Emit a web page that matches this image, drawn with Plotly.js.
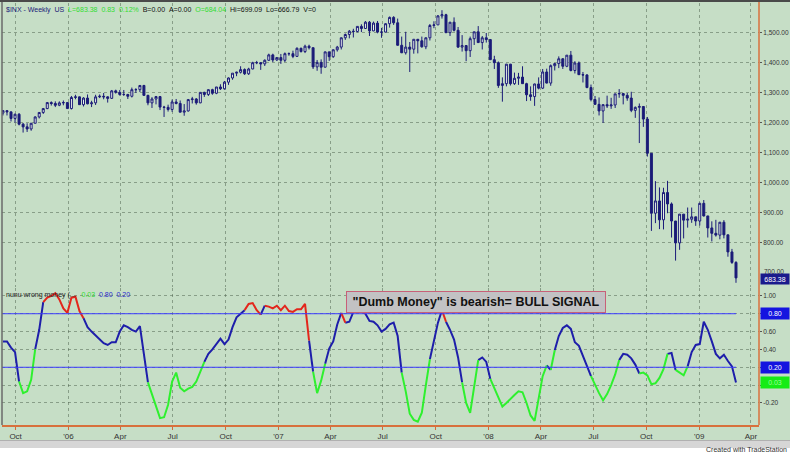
<!DOCTYPE html>
<html><head><meta charset="utf-8">
<script src="https://cdn.plot.ly/plotly-3.0.1.min.js"></script>
<style>
html,body{margin:0;padding:0;background:#fff;}
#wrap{position:relative;width:790px;height:454px;overflow:hidden;background:#fff;}
#chart{position:absolute;left:0;top:0;width:790px;height:440px;}
#topbar{position:absolute;left:0;top:0;width:790px;height:2px;background:#4a4a4a;}
#scroll{position:absolute;left:0;top:440px;width:790px;height:7px;background:#d6d6d6;border-top:1px solid #b0b0b0;}
#credit{position:absolute;right:3px;top:446px;font:7px "Liberation Sans Narrow","Liberation Sans",Arial,sans-serif;color:#333;}
</style></head>
<body><div id="wrap"><div id="chart"></div><div id="topbar"></div><div id="scroll"></div><div id="credit">Created with TradeStation</div></div>
<script>
// ---- data (weekly bars, S&P 500) ----
const startDate = '2005-09-09';
const open = [1233,1241,1237,1215,1229,1196,1187,1180,1199,1220,
1235,1248,1268,1265,1259,1267,1268,1248,1285,1287,
1261,1283,1264,1267,1287,1289,1287,1282,1307,1302,
1295,1295,1289,1311,1311,1325,1292,1267,1280,1288,
1253,1252,1245,1270,1265,1236,1240,1278,1280,1267,
1302,1295,1311,1299,1320,1314,1336,1350,1366,1369,
1378,1364,1380,1401,1401,1397,1409,1427,1410,1418,
1409,1431,1431,1422,1449,1438,1456,1451,1387,1402,
1386,1437,1421,1444,1453,1484,1495,1506,1505,1522,
1515,1536,1507,1533,1503,1503,1531,1552,1534,1459,
1434,1453,1446,1479,1474,1454,1484,1525,1527,1557,
1561,1501,1536,1509,1453,1458,1441,1481,1504,1468,
1484,1478,1411,1401,1325,1331,1396,1331,1349,1353,
1331,1294,1288,1330,1316,1370,1333,1391,1398,1414,
1389,1426,1375,1400,1361,1360,1318,1278,1262,1240,
1261,1257,1260,1297,1298,1292,1283,1242,1252,1255,
1213,1099,899,940,877,968,930,873,800,896,
876,879,887,873,932,890,850,832,826,869,
827,770,735];
const high = [1243,1243,1237,1231,1233,1200,1199,1200,1222,1235,
1250,1270,1272,1272,1272,1275,1270,1290,1294,1288,
1286,1295,1274,1294,1295,1300,1289,1310,1311,1310,
1310,1297,1318,1316,1326,1327,1294,1286,1290,1290,
1257,1261,1278,1280,1275,1263,1280,1287,1283,1302,
1304,1312,1314,1320,1329,1340,1352,1366,1371,1389,
1382,1384,1404,1407,1403,1412,1431,1431,1420,1430,
1435,1435,1441,1452,1451,1461,1461,1451,1410,1412,
1438,1438,1445,1457,1485,1498,1510,1514,1522,1529,
1540,1540,1538,1540,1517,1532,1555,1556,1548,1488,
1504,1470,1479,1480,1488,1485,1530,1539,1560,1576,
1564,1536,1552,1520,1493,1460,1488,1504,1523,1490,
1500,1480,1424,1405,1352,1397,1397,1368,1367,1389,
1334,1322,1331,1352,1380,1381,1395,1400,1422,1416,
1426,1440,1406,1405,1370,1363,1328,1290,1285,1262,
1291,1284,1297,1313,1300,1300,1304,1255,1265,1255,
1220,1099,1006,985,984,1007,935,873,896,896,
918,918,887,934,943,890,872,877,870,876,
827,780,739];
const low = [1225,1225,1205,1201,1192,1168,1170,1174,1199,1215,
1230,1246,1258,1253,1256,1259,1248,1245,1279,1260,
1255,1262,1253,1260,1283,1279,1268,1280,1298,1291,
1290,1280,1285,1300,1303,1290,1259,1250,1262,1243,
1220,1238,1237,1262,1236,1224,1238,1265,1261,1266,
1287,1290,1294,1296,1310,1311,1327,1344,1356,1365,
1360,1360,1379,1396,1377,1390,1407,1403,1407,1397,
1403,1424,1416,1420,1435,1433,1445,1380,1374,1364,
1385,1407,1417,1438,1445,1477,1482,1485,1502,1503,
1514,1490,1506,1499,1484,1502,1518,1527,1458,1433,
1428,1370,1431,1432,1451,1446,1475,1516,1527,1548,
1500,1490,1505,1450,1438,1406,1420,1460,1467,1445,
1468,1411,1380,1317,1271,1322,1325,1327,1327,1331,
1273,1274,1257,1312,1313,1332,1324,1375,1383,1380,
1386,1372,1365,1360,1335,1316,1272,1262,1225,1200,
1250,1247,1250,1284,1262,1274,1236,1217,1133,1187,
1088,840,866,846,845,899,818,741,777,815,
851,867,857,858,888,818,805,821,812,815,
754,730,667];
const close = [1241,1237,1215,1229,1196,1187,1180,1199,1220,1235,
1248,1268,1265,1259,1267,1268,1248,1285,1287,1261,
1283,1264,1267,1287,1289,1287,1282,1307,1302,1295,
1295,1289,1311,1311,1325,1292,1267,1280,1288,1253,
1252,1245,1270,1265,1236,1240,1278,1280,1267,1302,
1295,1311,1299,1320,1314,1336,1350,1366,1369,1378,
1364,1380,1401,1401,1397,1409,1427,1410,1418,1409,
1431,1431,1422,1449,1438,1456,1451,1387,1402,1386,
1437,1421,1444,1453,1484,1495,1506,1505,1522,1515,
1536,1507,1533,1503,1503,1531,1552,1534,1459,1434,
1453,1446,1479,1474,1454,1484,1525,1527,1557,1561,
1501,1536,1509,1453,1458,1441,1481,1504,1468,1484,
1478,1411,1401,1325,1331,1396,1331,1349,1353,1331,
1294,1288,1330,1316,1370,1333,1391,1398,1414,1389,
1426,1375,1400,1361,1360,1318,1278,1262,1240,1261,
1257,1260,1297,1298,1292,1283,1242,1252,1255,1213,
1099,899,940,877,968,930,873,800,896,876,
879,887,873,932,890,850,832,826,869,827,
770,735,683.38];
const dumbMoney = [0.49,0.49,0.42,0.37,0.04,-0.09,-0.07,0.06,0.40,0.62,
0.93,0.98,1.00,1.03,0.96,0.86,0.81,0.98,0.99,0.83,
0.75,0.65,0.60,0.56,0.52,0.47,0.45,0.48,0.48,0.60,
0.67,0.65,0.62,0.60,0.66,0.33,0.03,-0.11,-0.24,-0.37,
-0.36,-0.22,0.04,0.14,-0.03,-0.07,-0.04,-0.02,0.04,0.14,
0.26,0.35,0.40,0.46,0.52,0.46,0.51,0.65,0.76,0.80,
0.84,0.91,0.92,0.84,0.79,0.89,0.88,0.86,0.89,0.84,
0.89,0.83,0.82,0.85,0.85,0.91,0.50,0.15,-0.09,0.05,
0.24,0.41,0.49,0.68,0.81,0.70,0.71,0.82,0.85,0.83,
0.80,0.72,0.71,0.67,0.60,0.63,0.68,0.70,0.55,0.14,
-0.07,-0.32,-0.39,-0.41,-0.31,0.00,0.29,0.48,0.70,0.84,
0.71,0.62,0.51,0.31,0.03,-0.20,-0.31,0.00,0.28,0.31,
0.26,0.07,-0.03,-0.15,-0.24,-0.20,-0.15,-0.11,-0.07,-0.08,
-0.20,-0.34,-0.40,-0.13,0.10,0.22,0.17,0.39,0.55,0.64,
0.67,0.63,0.48,0.44,0.32,0.20,0.10,0.00,-0.09,-0.17,
-0.10,0.00,0.12,0.28,0.35,0.34,0.30,0.23,0.13,0.14,
0.11,0.01,0.02,0.08,0.18,0.35,0.36,0.17,0.14,0.11,
0.21,0.37,0.45,0.46,0.71,0.62,0.49,0.35,0.30,0.34,
0.27,0.21,0.03];
const upperLevel = 0.80;
const lowerLevel = 0.20;
const tickDates = ['2005-10-01','2006-01-01','2006-04-01','2006-07-01','2006-10-01','2007-01-01','2007-04-01','2007-07-01','2007-10-01','2008-01-01','2008-04-01','2008-07-01','2008-10-01','2009-01-01','2009-04-01'];
const tickLabels = ['Oct',"'06",'Apr','Jul','Oct',"'07",'Apr','Jul','Oct',"'08",'Apr','Jul','Oct',"'09",'Apr'];
const priceTicks = [800,900,1000,1100,1200,1300,1400,1500];
const priceTickLabels = ['800.00','900.00','1,000.00','1,100.00','1,200.00','1,300.00','1,400.00','1,500.00'];
const indTicks = [-0.2,0,0.2,0.4,0.6,0.8,1.0];
const indTickLabels = ['-0.20','','','0.40','0.60','','1.00'];

// ---- build ----
const dates = [];
const t0 = Date.parse(startDate + 'T00:00:00Z');
for (let i = 0; i < close.length; i++) dates.push(new Date(t0 + i*7*86400000).toISOString().slice(0,10));
const xRange = ['2005-09-07 08:00','2009-04-15'];

const RED='#e3261c', BLUE='#1e1eaa', GREEN='#2ef02e';
function colorOf(v){ return v > upperLevel ? RED : (v < lowerLevel ? GREEN : BLUE); }
const segs = {}; segs[RED]={x:[],y:[]}; segs[BLUE]={x:[],y:[]}; segs[GREEN]={x:[],y:[]};
let prevC = null;
for (let i = 0; i < dumbMoney.length-1; i++){
  const c = colorOf(dumbMoney[i]);
  const s = segs[c];
  if (c !== prevC){
    if (s.x.length){ s.x.push(null); s.y.push(null); }
    s.x.push(dates[i]); s.y.push(dumbMoney[i]);
  }
  s.x.push(dates[i+1]); s.y.push(dumbMoney[i+1]);
  prevC = c;
}

const NAVY = '#1b1b78';
const traces = [
  {type:'candlestick', x:dates, open:open, high:high, low:low, close:close,
   xaxis:'x2', yaxis:'y', hoverinfo:'skip', whiskerwidth:0,
   increasing:{line:{color:NAVY,width:1}, fillcolor:'#eef3ee'},
   decreasing:{line:{color:NAVY,width:1}, fillcolor:NAVY}, showlegend:false}
];
[BLUE, GREEN, RED].forEach(c => traces.push({type:'scatter', mode:'lines', x:segs[c].x, y:segs[c].y,
  xaxis:'x', yaxis:'y2', line:{color:c, width:2}, connectgaps:false, hoverinfo:'skip', showlegend:false}));

const GRID = 'rgba(85,105,85,0.55)';
const FONT = 'Liberation Sans, Arial, sans-serif';
const NARROW = 'Liberation Sans Narrow, Arial Narrow, Liberation Sans, sans-serif';
const baseX = {type:'date', range:xRange, tickvals:tickDates, ticktext:tickLabels, showgrid:true,
  gridcolor:GRID, griddash:'dot', gridwidth:1, zeroline:false, rangeslider:{visible:false}, fixedrange:true};
const layout = {
  width:790, height:440, margin:{l:2, r:31, t:3, b:15},
  paper_bgcolor:'#c6dec6', plot_bgcolor:'#c6dec6',
  font:{family:FONT, size:8, color:'#333'}, showlegend:false, hovermode:false,
  xaxis: Object.assign({}, baseX, {anchor:'y2', ticks:'outside', ticklen:3, tickcolor:'#d06a3a',
    showline:true, linecolor:'#d8703c', linewidth:1.5, tickfont:{size:8, family:NARROW, color:'#333'}}),
  xaxis2: Object.assign({}, baseX, {anchor:'y', matches:'x', showticklabels:false, ticks:''}),
  yaxis: {domain:[0.327,1], anchor:'x2', side:'right', range:[653,1600], tickvals:priceTicks,
    ticktext:priceTickLabels, ticks:'outside', ticklen:2, tickcolor:'#555', showgrid:true, gridcolor:GRID,
    griddash:'dot', zeroline:false, tickfont:{size:6.5, family:NARROW, color:'#333'}, fixedrange:true},
  yaxis2: {domain:[0,0.325], anchor:'x', side:'right', range:[-0.447,1.09], tickvals:indTicks,
    ticktext:indTickLabels, ticks:'outside', ticklen:2, tickcolor:'#555', showgrid:true, gridcolor:GRID,
    griddash:'dot', zeroline:false, tickfont:{size:6.5, family:NARROW, color:'#333'}, fixedrange:true},
  shapes:[
    {type:'line', xref:'x', yref:'y2', x0:xRange[0], x1:dates[dates.length-1], y0:upperLevel, y1:upperLevel, line:{color:'#3b3bff', width:1}},
    {type:'line', xref:'x', yref:'y2', x0:xRange[0], x1:dates[dates.length-1], y0:lowerLevel, y1:lowerLevel, line:{color:'#3b3bff', width:1}},
    {type:'line', xref:'paper', yref:'paper', x0:1, x1:1, y0:0, y1:1.01, line:{color:'#d8703c', width:1.5}},
    {type:'line', xref:'paper', yref:'paper', x0:0, x1:0, y0:0, y1:1.01, line:{color:'#6a6a6a', width:1.5}}
  ],
  annotations:[
    {xref:'paper', yref:'paper', x:0.002, y:0.998, xanchor:'left', yanchor:'top', showarrow:false,
     font:{size:7, family:FONT, color:'#1b1b78'},
     text:'$INX - Weekly&nbsp;&nbsp;US&nbsp;&nbsp;<span style="color:#33dd33">L=683.38&nbsp;&nbsp;0.83&nbsp;&nbsp;0.12%</span>&nbsp;&nbsp;<span style="color:#111">B=0.00&nbsp;&nbsp;A=0.00</span>&nbsp;&nbsp;<span style="color:#33dd33">O=684.04</span>&nbsp;&nbsp;<span style="color:#111">Hi=699.09&nbsp;&nbsp;Lo=666.79&nbsp;&nbsp;V=0</span>'},
    {xref:'paper', yref:'paper', x:0.002, y:0.323, xanchor:'left', yanchor:'top', showarrow:false,
     font:{size:7, family:FONT, color:'#222'},
     text:'nunu wrong money (...&nbsp;&nbsp;&nbsp;<span style="color:#33dd33">' + dumbMoney[dumbMoney.length-1].toFixed(2) + '</span>&nbsp;&nbsp;<span style="color:#2a2ad0">' + upperLevel.toFixed(2) + '</span>&nbsp;&nbsp;<span style="color:#2a2ad0">' + lowerLevel.toFixed(2) + '</span>'},
    {xref:'paper', yref:'paper', x:0.6266, y:0.2905, xanchor:'center', yanchor:'middle', showarrow:false,
     text:'<b>"Dumb Money" is bearish= BULL SIGNAL</b>', font:{size:12.5, family:FONT, color:'#111'},
     bgcolor:'#c2c2c4', bordercolor:'#c86078', borderwidth:1, borderpad:3, width:252},
    {xref:'paper', yref:'y', x:1, y:700, xanchor:'left', xshift:3, yshift:1, showarrow:false,
     text:'700.00', font:{size:6.5, family:NARROW, color:'#333'}},
    {xref:'paper', yref:'y', x:1, y:close[close.length-1], xanchor:'left', xshift:1, yshift:-1, showarrow:false,
     text:close[close.length-1].toFixed(2), font:{size:7, family:NARROW, color:'#ffffff'}, bgcolor:'#1a1a8c', width:26, height:8},
    {xref:'paper', yref:'y2', x:1, y:upperLevel, xanchor:'left', xshift:1, showarrow:false,
     text:upperLevel.toFixed(2), font:{size:7, family:NARROW, color:'#ffffff'}, bgcolor:'#1414e0', width:26, height:9},
    {xref:'paper', yref:'y2', x:1, y:lowerLevel, xanchor:'left', xshift:1, showarrow:false,
     text:lowerLevel.toFixed(2), font:{size:7, family:NARROW, color:'#ffffff'}, bgcolor:'#1414e0', width:26, height:9},
    {xref:'paper', yref:'y2', x:1, y:dumbMoney[dumbMoney.length-1], xanchor:'left', xshift:1, showarrow:false,
     text:dumbMoney[dumbMoney.length-1].toFixed(2), font:{size:7, family:NARROW, color:'#9dff9d'}, bgcolor:'#16ec16', width:26, height:9}
  ]
};
Plotly.newPlot('chart', traces, layout, {displayModeBar:false, staticPlot:true});
</script>
</body></html>
